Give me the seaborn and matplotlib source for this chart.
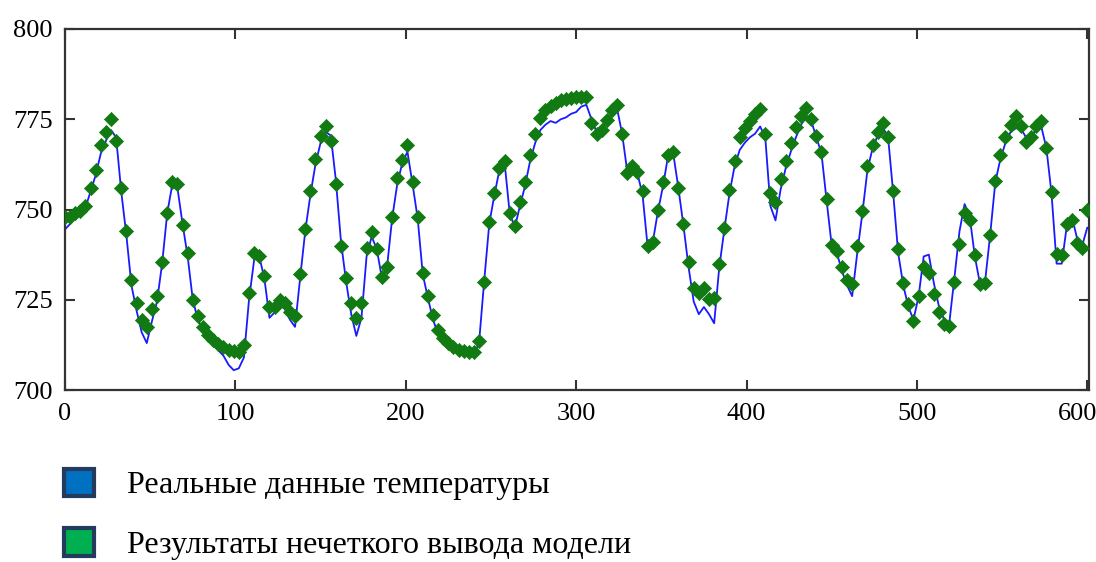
import numpy as np
import pandas as pd
import matplotlib
matplotlib.use('Agg')
import matplotlib.pyplot as plt
import matplotlib.transforms as mtransforms
import seaborn as sns
from matplotlib.patches import Patch

# time index (every 3rd sample) and readings
t = list(range(0, 601, 3))

real_temp = [744.5, 746, 748, 749, 750.5, 755, 759.5, 765.5, 769, 772,
             770, 755, 743, 729, 722, 716, 713, 719, 724.5, 735,
             749, 757, 756, 746, 737, 725, 719.5, 716.5, 714.5, 712.5,
             711, 709.5, 707, 705.5, 706, 709, 725, 736, 737, 731,
             720, 721.5, 723.5, 722.5, 719.5, 717.5, 731, 744, 754, 762.5,
             768.5, 771.5, 770.5, 758, 741, 730, 721, 715, 720, 737,
             742.5, 739, 731, 734, 747.5, 757, 763, 766, 757, 747.5,
             732, 725.5, 719.5, 715.5, 713.5, 712, 711, 710.5, 710, 709.8,
             709.8, 713, 730, 746, 754, 761, 763, 749, 745, 751,
             756.5, 763.5, 768.5, 772, 773.5, 774.5, 774, 775, 775.5, 776.5,
             777, 778.5, 779, 775, 771.5, 772, 774.5, 776.5, 778, 771,
             760.5, 761.5, 760, 754, 739.5, 741, 749.5, 756.5, 765, 765.5,
             756, 745.5, 734, 724.5, 721, 723, 721, 718.5, 734, 744.5,
             754.5, 762, 766.5, 768.5, 770, 771, 773, 770, 751, 747,
             755.5, 761.5, 766, 770, 773.5, 775.5, 774.5, 770, 765.5, 752.5,
             740, 738, 733, 729, 726, 738, 749, 761, 767, 770.5,
             772.5, 770.5, 755, 738, 729, 723, 719.5, 726, 737, 737.5,
             729.5, 723, 719.5, 718.5, 731, 744, 751.5, 748, 737, 729.5,
             730, 743, 757.5, 764, 768.5, 771.5, 772.5, 772.5, 770, 770.5,
             772, 773, 767, 754.5, 735, 735, 745.5, 748, 742, 740,
             745]

fuzzy_temp = [748, 748, 749, 749.5, 751, 756, 761, 768, 771.5, 775,
              769, 756, 744, 730.5, 724, 719.5, 717.5, 722.5, 726, 735.5,
              749, 757.5, 757, 745.7, 738, 725, 720.5, 717.5, 715.3, 713.8,
              712.8, 712, 711.2, 710.8, 710.5, 712.5, 727, 738, 737, 731.5,
              723, 723, 725, 724, 721.6, 720.5, 732, 744.5, 755, 764,
              770.5, 773, 769, 757, 740, 731, 724, 720, 724, 739.3,
              743.8, 739, 731.3, 734, 748, 758.7, 763.7, 768, 757.5, 748,
              732.5, 726, 720.8, 716.5, 714.5, 713, 711.9, 711.2, 710.8, 710.6,
              710.6, 713.5, 730, 746.5, 754.5, 761.5, 763.5, 749, 745.5, 752,
              757.6, 765, 771, 775.3, 777.5, 778.8, 779.6, 780.2, 780.7, 781,
              781.2, 781.2, 781.2, 774, 771, 772, 774.8, 777.5, 779, 771,
              760, 762, 760.4, 755, 740, 741, 750, 757.5, 765, 766,
              756, 746, 735.5, 728.3, 727, 728.3, 725.3, 725.5, 735, 745,
              755.5, 763.5, 770, 772.5, 774.5, 776.5, 777.8, 771, 754.6, 752,
              758.5, 763.5, 768.5, 772.8, 776, 778, 775, 770.5, 766, 753,
              740.3, 738.6, 734, 730.5, 729.5, 740, 749.5, 762, 768, 771.4,
              774, 770, 755, 739, 729.6, 723.8, 719, 726, 734, 732.5,
              726.5, 721.5, 718.3, 717.7, 730, 740.5, 749, 747, 737.3, 729.3,
              729.6, 743, 758, 765, 770, 773.3, 776, 773.2, 768.6, 770.2,
              773, 774.6, 767, 754.8, 737.6, 737.5, 746, 747.1, 740.7, 739.3,
              750]

legend_labels = ['Реальные данные температуры',
                 'Результаты нечеткого вывода модели']
x_ticks = [0, 100, 200, 300, 400, 500, 600]
y_ticks = [700, 725, 750, 775, 800]

df = pd.DataFrame({'t': t, 'real': real_temp, 'fuzzy': fuzzy_temp})

sns.set_style('ticks')
plt.rcParams['font.family'] = ['Liberation Serif', 'DejaVu Serif']
plt.rcParams['text.color'] = 'black'
plt.rcParams['xtick.labelcolor'] = 'black'
plt.rcParams['ytick.labelcolor'] = 'black'

fig = plt.figure(figsize=(10.96, 5.62), dpi=100)
ax = fig.add_axes([0.0593, 0.306, 0.9343, 0.6424])

sns.lineplot(data=df, x='t', y='real', color='#1a1aff', linewidth=1.3, ax=ax, zorder=2)
sns.scatterplot(data=df, x='t', y='fuzzy', marker='D', s=52, color='#127a12',
                edgecolor='#127a12', linewidth=0.5, ax=ax, zorder=3)

ax.set_xlim(0, 601)
ax.set_ylim(700, 800)
ax.set_xticks(x_ticks)
ax.set_yticks(y_ticks)
ax.set_xlabel('')
ax.set_ylabel('')
ax.tick_params(direction='in', length=7, width=1.5, color='#333333',
               top=True, right=True, labelsize=19, pad=9)
for s in ax.spines.values():
    s.set_linewidth(1.6)
    s.set_color('#333333')

# nudge the last x label so it stays inside the image
last = ax.get_xticklabels()[-1]
last.set_transform(last.get_transform() +
                   mtransforms.ScaledTranslation(-10 / 100, 0, fig.dpi_scale_trans))

handles = [Patch(facecolor='#0070C0', edgecolor='#243B5E', linewidth=3),
           Patch(facecolor='#00B050', edgecolor='#243B5E', linewidth=3)]
fig.legend(handles, legend_labels, loc='upper left', bbox_to_anchor=(0.058, 0.166),
           frameon=False, fontsize=23, handlelength=0.94, handleheight=0.94,
           handletextpad=1.05, labelspacing=0.88, borderpad=0, borderaxespad=0)

fig.savefig('out.png', dpi=100)
